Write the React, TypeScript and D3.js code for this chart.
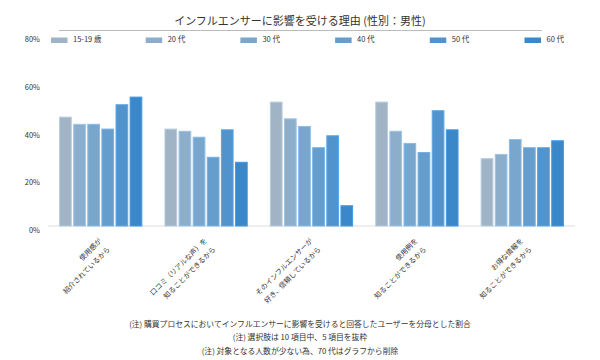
import React from "react";
import * as d3 from "d3";

const title = "インフルエンサーに影響を受ける理由 (性別：男性)";
const categories = [
  ["使用感が", "紹介されているから"],
  ["口コミ（リアルな声）を", "知ることができるから"],
  ["そのインフルエンサーが", "好き、信頼しているから"],
  ["使用例を", "知ることができるから"],
  ["お得な情報を", "知ることができるから"],
];
const seriesNames = ["15-19 歳", "20 代", "30 代", "40 代", "50 代", "60 代"];
const seriesColors = ["#a1b4c5", "#8caecb", "#78a6cd", "#659dcd", "#5093cd", "#3a88ca"];
const values = [
  [45.8, 42.8, 42.8, 40.8, 51.0, 54.2],
  [40.8, 39.9, 37.4, 29.0, 40.5, 26.9],
  [52.1, 45.1, 41.9, 33.0, 38.0, 8.7],
  [52.1, 39.9, 34.8, 31.0, 48.5, 40.5],
  [28.4, 30.2, 36.4, 33.0, 33.0, 35.9],
];
const yTicks = [0, 20, 40, 60, 80];
const notes = [
  "(注) 購買プロセスにおいてインフルエンサーに影響を受けると回答したユーザーを分母とした割合",
  "(注) 選択肢は 10 項目中、5 項目を抜粋",
  "(注) 対象となる人数が少ない為、70 代はグラフから削除",
];

const FONT = "'Noto Sans CJK JP', 'Noto Sans', sans-serif";

export default function App() {
  const W = 600, H = 360;
  const x0 = d3.scaleBand<number>().domain(d3.range(categories.length)).range([48, 575]).paddingInner(0.21).paddingOuter(0.105);
  const x1 = d3.scaleBand<number>().domain(d3.range(seriesNames.length)).range([0, x0.bandwidth()]).paddingInner(0.1).paddingOuter(0);
  const y = d3.scaleLinear().domain([0, 80]).range([226, 35]);
  const legendX = d3.scaleLinear().domain([0, 5]).range([51, 524.5]);

  return (
    <svg width={W} height={H} style={{ position: "fixed", left: 0, top: 0, background: "#fff" }} fontFamily={FONT}>
      <text x={300} y={22} textAnchor="middle" dominantBaseline="middle" fontSize={11} fill="#333">{title}</text>
      <line x1={59} x2={542} y1={30.5} y2={30.5} stroke="#bbb" strokeWidth={1} />
      {yTicks.map((t) => (
        <text key={t} x={40} y={y(t) + 5} textAnchor="end" dominantBaseline="middle" fontSize={7.5} fill="#333">{t}%</text>
      ))}
      {seriesNames.map((s, i) => (
        <g key={s}>
          <rect x={legendX(i)} y={37.5} width={16.5} height={5.5} fill={seriesColors[i]} />
          <text x={legendX(i) + 22} y={40.3} dominantBaseline="middle" fontSize={7.5} fill="#333">{s}</text>
        </g>
      ))}
      <line x1={48} x2={575} y1={226} y2={226} stroke="#ddd" strokeWidth={1.2} />
      {values.map((row, gi) => (
        <g key={gi} transform={`translate(${x0(gi)},0)`}>
          {row.map((v, si) => (
            <rect key={si} x={(x1(si) as number) + 0.5} y={y(v) + 0.5} width={x1.bandwidth() - 1} height={y(0) - y(v) - 0.5}
              fill={seriesColors[si]} stroke={d3.color(seriesColors[si])!.brighter(0.35).formatHex()} strokeWidth={1} />
          ))}
        </g>
      ))}
      {categories.map((lines, gi) => {
        const cx = (x0(gi) as number) + x0.bandwidth() / 2;
        return (
          <g key={gi} transform={`translate(${cx},240) rotate(-45)`}>
            {lines.map((l, li) => (
              <text key={li} x={0} y={li * 12} textAnchor="end" dominantBaseline="middle" fontSize={7} fill="#333">{l}</text>
            ))}
          </g>
        );
      })}
      {notes.map((n, i) => (
        <text key={i} x={300} y={324.5 + i * 13.5} textAnchor="middle" dominantBaseline="middle" fontSize={7.8} fill="#333">{n}</text>
      ))}
    </svg>
  );
}
